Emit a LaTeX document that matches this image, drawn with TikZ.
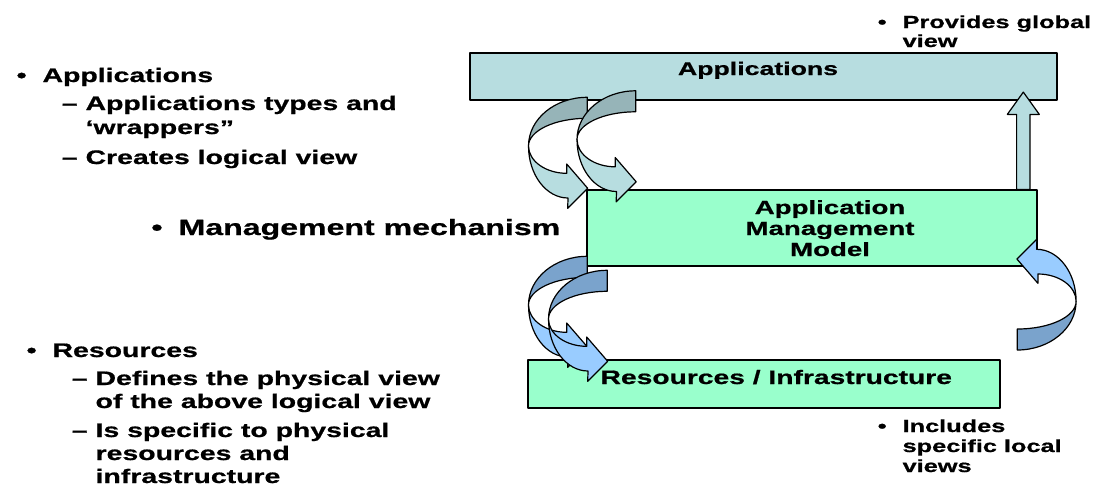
\documentclass[tikz,border=0pt]{standalone}
\usepackage{fontspec}
\setmainfont{Liberation Sans}[FakeStretch=1.45, BoldFeatures={FakeBold=0.8}]
\usetikzlibrary{calc}
\definecolor{appblue}{RGB}{183, 221, 224}
\definecolor{appdark}{RGB}{150, 180, 184}
\definecolor{mintgreen}{RGB}{153, 255, 204}
\definecolor{resblue}{RGB}{153, 204, 255}
\definecolor{resdark}{RGB}{122, 163, 204}
\newcommand{\upx}{0.75pt}
\newcommand{\bul}{\llap{\textbullet\hspace{12pt}}}
\newcommand{\dsh}{\llap{--\hspace{6pt}}}
\newcommand{\twistarrow}[2]{%
\filldraw[fill=#1] (0,0) .. controls (-32.5,0) and (-58.8,21.8) .. (-58.8,48.7)
  .. controls (-58.8,33.4) and (-32.5,21) .. (0,21) -- cycle;
\filldraw[fill=#2] (-58.8,48.7) .. controls (-58.8,77.4) and (-41.1,100.7) .. (-19.3,100.7)
  -- (-19.6,111) -- (0.4,91) -- (-20.6,66.7) -- (-20.6,76)
  .. controls (-41.7,76) and (-58.8,63.7) .. (-58.8,48.7) -- cycle;
}

\begin{document}
\begin{tikzpicture}[x=0.75pt, y=-0.75pt, line width=0.9pt, line join=round,
  box/.style={draw, inner sep=0pt},
  txt/.style={anchor=base west, inner sep=0pt, font=\bfseries\fontsize{14.7}{17}\selectfont},
  bigtxt/.style={txt, font=\bfseries\fontsize{16.6}{19}\selectfont},
  smalltxt/.style={txt, font=\bfseries\fontsize{13.1}{15}\selectfont},
  boxtxt/.style={anchor=base, inner sep=0pt, font=\bfseries\fontsize{14.3}{16}\selectfont}]
\useasboundingbox (0,0) rectangle (1105,486);

\node[box, fill=appblue, minimum width=587*\upx, minimum height=47*\upx] (apps) at (763.5,76.5) {};
\node[box, fill=mintgreen, minimum width=450*\upx, minimum height=76*\upx] (amm) at (812,228) {};
\node[box, fill=mintgreen, minimum width=472*\upx, minimum height=48*\upx] (res) at (764,384) {};

\node[boxtxt, font=\bfseries\fontsize{13.8}{16}\selectfont] (appsT) at (758,75) {Applications};
\node[boxtxt] (ammT1) at (830,214) {Application};
\node[boxtxt] (ammT2) at (830,235) {Management};
\node[boxtxt] (ammT3) at (830,256) {Model};
\node[txt, font=\bfseries\fontsize{14.6}{17}\selectfont] (resT) at (600,384) {Resources / Infrastructure};

\coordinate (upb) at ($(amm.north east)+(-14.3,0)$);
\filldraw[fill=appblue] (upb) ++(-6.7,0) -- ++(0,-75) -- ++(-9.3,0) -- ++(16,-22.3)
  -- ++(16,22.3) -- ++(-9.3,0) -- ++(0,75) -- cycle;

\begin{scope}[shift={(587.3,97.3)}]
\twistarrow{appdark}{appblue}
\end{scope}
\begin{scope}[shift={(635.8,90.8)}]
\twistarrow{appdark}{appblue}
\end{scope}
\begin{scope}[shift={(587.3,256.3)}]
\twistarrow{resdark}{resblue}
\end{scope}
\begin{scope}[shift={(607.3,270.3)}]
\twistarrow{resdark}{resblue}
\end{scope}
\begin{scope}[shift={(1017.3,350)}, rotate=180]
\twistarrow{resdark}{resblue}
\end{scope}

\node[txt] (l1) at (42,82) {\bul Applications};
\node[txt] (l2) at (85,110) {\dsh Applications types and};
\node[txt] (l3) at (85,134) {‘wrappers”};
\node[txt] (l4) at (85,164) {\dsh Creates logical view};
\node[bigtxt] (l5) at (178,235) {\bul Management mechanism};
\node[txt] (l6) at (52,357) {\bul Resources};
\node[txt] (l7) at (95,385) {\dsh Defines the physical view};
\node[txt] (l8) at (95,408) {of the above logical view};
\node[txt] (l9) at (95,437) {\dsh Is specific to physical};
\node[txt] (l10) at (95,460) {resources and};
\node[txt] (l11) at (95,483) {infrastructure};

\node[smalltxt] (r1) at (902,28) {\bul Provides global};
\node[smalltxt] (r2) at (902,47) {view};
\node[smalltxt] (r3) at (902,432) {\bul Includes};
\node[smalltxt] (r4) at (902,452) {specific local};
\node[smalltxt] (r5) at (902,472) {views};
\end{tikzpicture}
\end{document}
